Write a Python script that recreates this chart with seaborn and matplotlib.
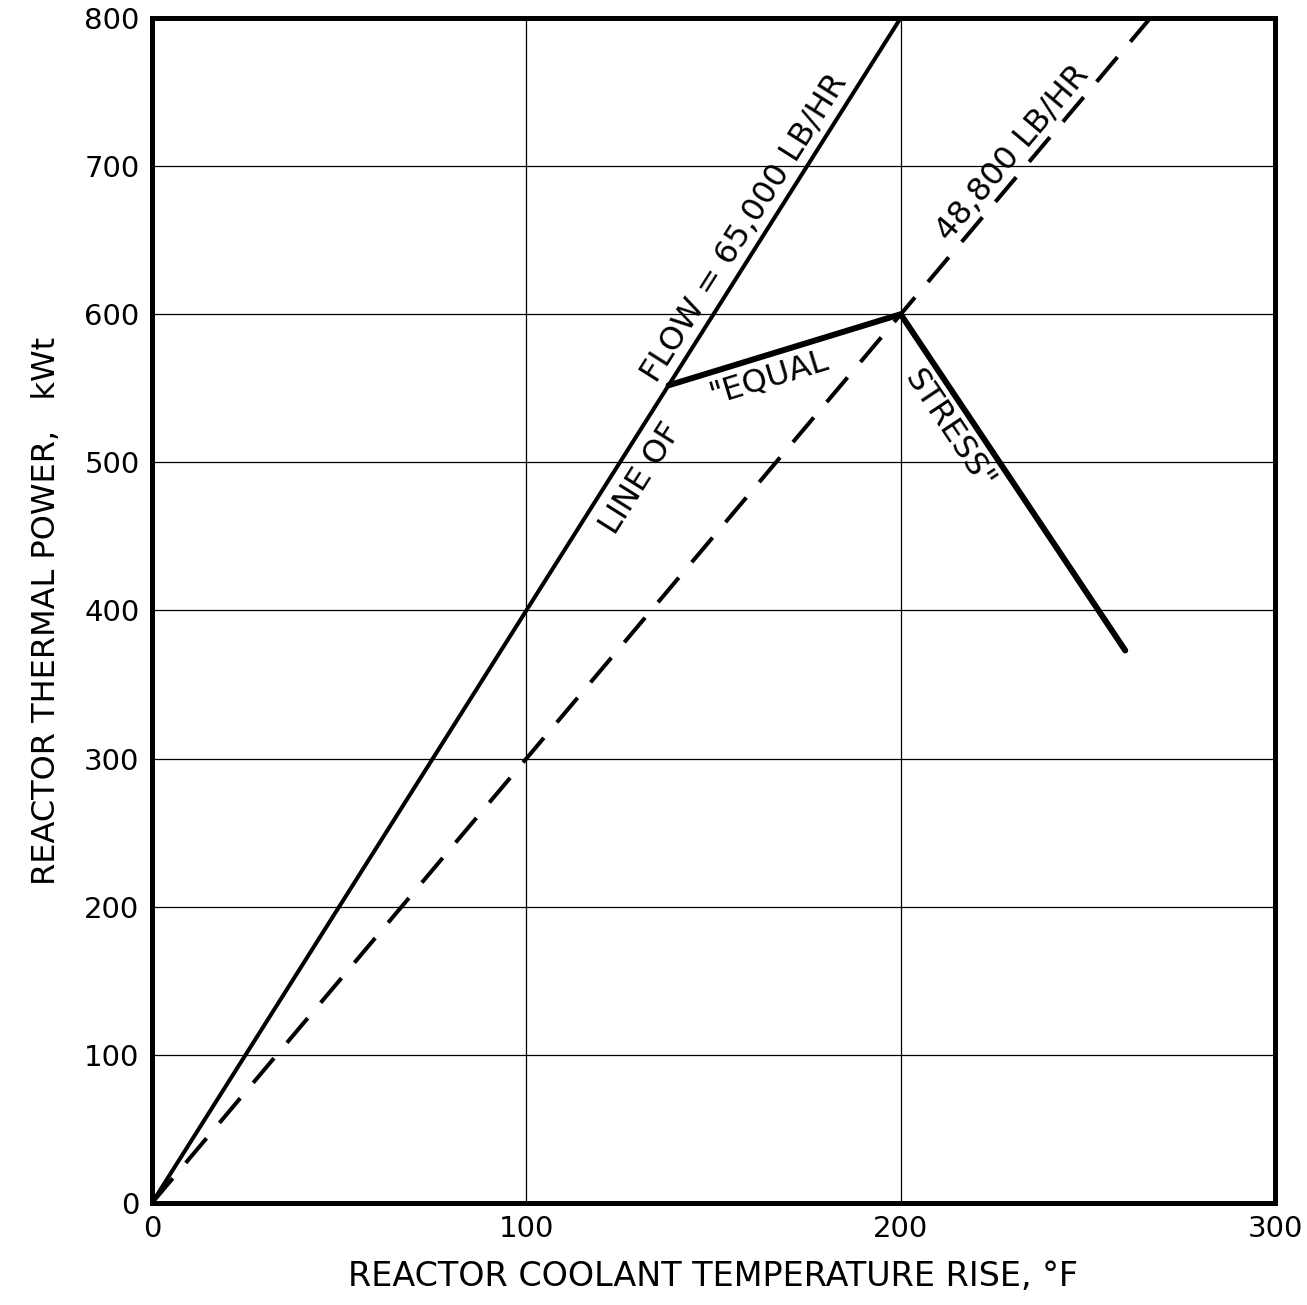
import matplotlib
matplotlib.use("Agg")
import matplotlib.pyplot as plt
import seaborn as sns
import numpy as np

# Data
flow65_x = [0, 200]
flow65_y = [0, 800]
flow48_x = [0, 266.7]
flow48_y = [0, 800]
stress_x = [138, 200, 260]
stress_y = [552, 600, 373]
x_ticks = [0, 100, 200, 300]
y_ticks = [0, 100, 200, 300, 400, 500, 600, 700, 800]

sns.set_style("white")
plt.rcParams['font.family'] = ['DejaVu Sans']
plt.rcParams['text.color'] = 'black'
plt.rcParams['axes.labelcolor'] = 'black'
plt.rcParams['xtick.color'] = 'black'
plt.rcParams['ytick.color'] = 'black'

fig = plt.figure(figsize=(13.07, 13.05), dpi=100)
ax = fig.add_axes([0.1163, 0.0782, 0.8592, 0.908])

for v in x_ticks[1:-1]:
    ax.axvline(v, color='black', lw=0.9, zorder=1)
for v in y_ticks[1:-1]:
    ax.axhline(v, color='black', lw=0.9, zorder=1)

sns.lineplot(x=flow65_x, y=flow65_y, ax=ax, color='black', lw=2.9, zorder=3)
sns.lineplot(x=flow48_x, y=flow48_y, ax=ax, color='black', lw=2.9, zorder=3,
             linestyle=(0, (8, 5)))
sns.lineplot(x=stress_x, y=stress_y, ax=ax, color='black', lw=4.3, zorder=4, sort=False)

ax.set_xlim(0, 300)
ax.set_ylim(0, 800)
ax.set_xticks(x_ticks)
ax.set_yticks(y_ticks)
ax.tick_params(length=0, labelsize=21, pad=9)
for s in ax.spines.values():
    s.set_linewidth(3.6)
    s.set_color('black')

ax.set_xlabel("REACTOR COOLANT TEMPERATURE RISE, \u00b0F", fontsize=24, labelpad=12)
ax.set_ylabel("REACTOR THERMAL POWER,   kWt", fontsize=23, labelpad=16)


def seg_angle(xa, ya, xb, yb):
    p = ax.transData.transform([(xa, ya), (xb, yb)])
    d = p[1] - p[0]
    return np.degrees(np.arctan2(d[1], d[0]))


def label(txt, xy, ang, gap, side):
    th = np.radians(ang)
    nx, ny = -np.sin(th), np.cos(th)
    va = 'baseline' if side > 0 else 'top'
    ax.annotate(txt, xy=xy, xytext=(side * nx * gap, side * ny * gap),
                textcoords='offset points', rotation=ang, rotation_mode='anchor',
                ha='center', va=va, fontsize=23, color='black')


a65 = seg_angle(flow65_x[0], flow65_y[0], flow65_x[1], flow65_y[1])
a48 = seg_angle(flow48_x[0], flow48_y[0], flow48_x[1], flow48_y[1])
aeq = seg_angle(stress_x[0], stress_y[0], stress_x[1], stress_y[1])
ast = seg_angle(stress_x[1], stress_y[1], stress_x[2], stress_y[2])

label("FLOW = 65,000 LB/HR", (162.7, 650.8), a65, 8, +1)
label("LINE OF", (124.6, 498.4), a65, 8, -1)
label("\"EQUAL", (163.2, 571.5), aeq, 5, -1)
label("48,800 LB/HR", (233.7, 701), a48, 6.5, +1)
label("STRESS\"", (218.5, 531), ast, 7, -1)

fig.savefig("out.png", dpi=100)
